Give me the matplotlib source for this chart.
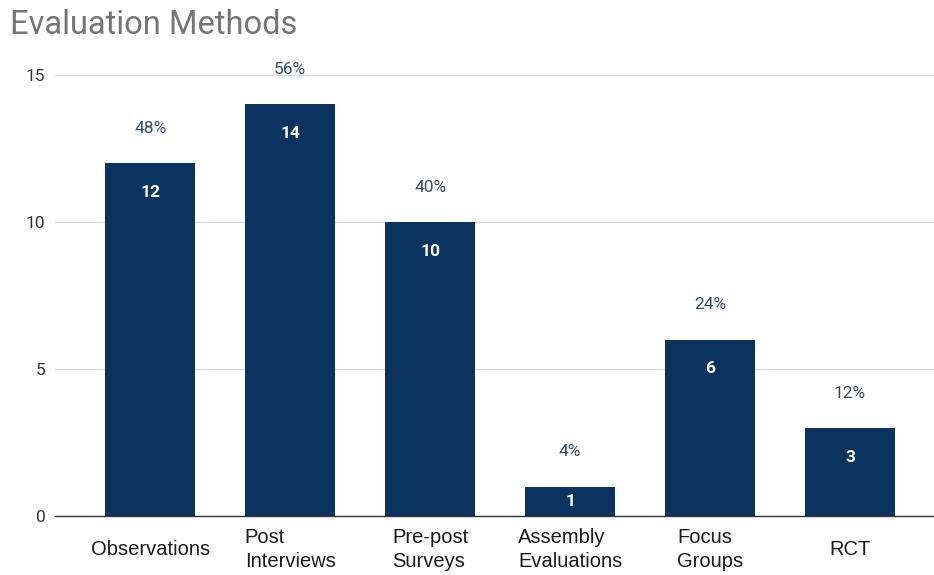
import matplotlib
matplotlib.use('Agg')
import matplotlib.pyplot as plt

methods = ['Observations', 'Post\nInterviews', 'Pre-post\nSurveys',
           'Assembly\nEvaluations', 'Focus\nGroups', 'RCT']
counts = [12, 14, 10, 1, 6, 3]
shares = [48, 56, 40, 4, 24, 12]
yticks = [0, 5, 10, 15]

navy = '#0a3360'

fig = plt.figure(figsize=(9.34, 5.75), dpi=100)
ax = fig.add_axes([0.0589, 0.1026, 0.9411, 0.767])

xs = list(range(len(methods)))
ax.bar(xs, counts, width=0.64, color=navy, zorder=3)

for x, c, s in zip(xs, counts, shares):
    # count sits one unit under the top, or mid-bar for short bars
    ax.text(x, max(c - 1.0, c / 2), f'{c}', ha='center', va='center',
            color='white', fontsize=12.5, fontweight='bold', family='Roboto', zorder=4)
    ax.annotate(f'{s}%', (x, c), xytext=(0, 25), textcoords='offset points',
                ha='center', va='center', color='#34496e', fontsize=12.5,
                family='Roboto', annotation_clip=False)

ax.set_xlim(-0.68, 5.6)
ax.set_ylim(0, 15)
ax.set_yticks(yticks)
ax.set_yticklabels([str(t) for t in yticks], family='Roboto', fontsize=12.5, color='#333333')
ax.yaxis.grid(True, color='#d9d9d9', linewidth=1, zorder=0)
ax.tick_params(axis='y', length=0, pad=7)

ax.set_xticks(xs)
ax.set_xticklabels(methods, family='Liberation Sans', fontsize=14.5, color='#1a1a1a',
                   va='center', linespacing=1.35, multialignment='left')
ax.tick_params(axis='x', length=0, pad=24)

for side in ['top', 'right', 'left']:
    ax.spines[side].set_visible(False)
ax.spines['bottom'].set_color('#333333')
ax.spines['bottom'].set_linewidth(1)
ax.spines['bottom'].set_zorder(5)

fig.text(0.011, 0.956, 'Evaluation Methods', family='Roboto', fontsize=23.5,
         color='#757575', ha='left', va='center')

fig.savefig('out.png', dpi=100)
